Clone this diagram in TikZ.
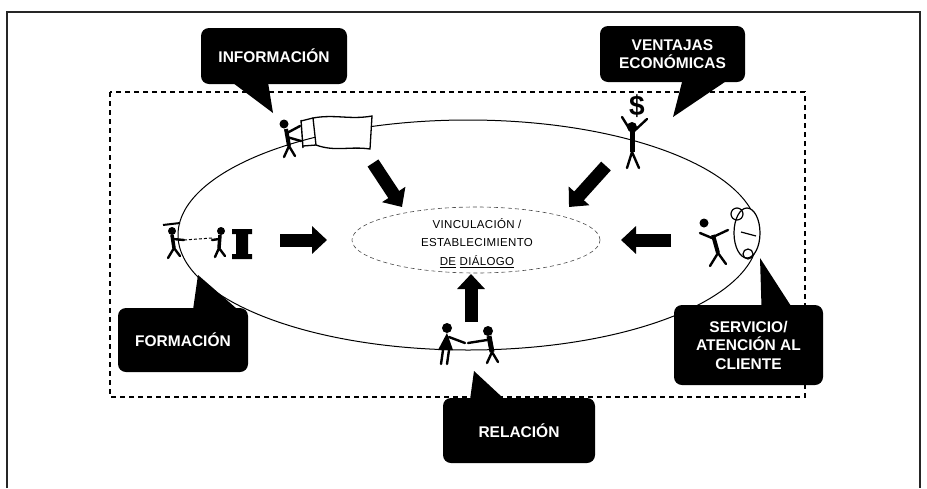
\documentclass[tikz,border=0pt]{standalone}
\usepackage{fontspec}
\setmainfont{Liberation Sans}
\newfontfamily\corefont[LetterSpace=3]{Liberation Sans}
\usetikzlibrary{arrows.meta}

\begin{document}
\begin{tikzpicture}[x=1pt,y=-1pt,
	callout/.style={fill=black,text=white,rounded corners=8pt,align=center,inner sep=0pt,font=\bfseries\fontsize{15.5}{18.5}\selectfont},
	bigarrow/.style={line width=13pt,-{Triangle[width=27pt,length=15pt]}},
	limb/.style={line width=2.4pt,line cap=round,line join=round}]
	\useasboundingbox (0,0) rectangle (927,488);
	% frame, open at the bottom
	\draw[line width=1.6pt,black!85] (7,488) -- (7,12) -- (920,12) -- (920,488);
	\draw[dash pattern=on 5pt off 4pt,line width=1.2pt] (110,92) rectangle (805,397);
	% ring and centre
	\draw[line width=1pt] (468,235) ellipse [x radius=290pt,y radius=115pt];
	\draw[line width=0.6pt,dash pattern=on 4pt off 3pt,black!70] (476,240) ellipse [x radius=124pt,y radius=33pt];
	\node[align=center,font=\corefont\fontsize{11.5}{18.5}\selectfont] (core) at (477,243) {VINCULACIÓN /\\ESTABLECIMIENTO\\\underline{DE} \underline{DIÁLOGO}};

	% arrows towards the centre
	\coordinate (nw0) at (373,163); \coordinate (nw1) at (402,207);
	\coordinate (ne0) at (606,166); \coordinate (ne1) at (569,207);
	\coordinate (w0) at (280,240); \coordinate (w1) at (327,240);
	\coordinate (e0) at (671,240); \coordinate (e1) at (621,240);
	\coordinate (s0) at (471,322); \coordinate (s1) at (471,274);
	\draw[bigarrow] (nw0) -- (nw1);
	\draw[bigarrow] (ne0) -- (ne1);
	\draw[bigarrow] (w0) -- (w1);
	\draw[bigarrow] (e0) -- (e1);
	\draw[bigarrow] (s0) -- (s1);

	% information: man with a flag
	\fill (284,124) circle (4.5pt);
	\draw[line width=4pt] (286,129) -- (289,146);
	\draw[limb] (289,146) -- (284,157) (289,146) -- (295,156);
	\draw[limb] (287,133) -- (300,126) (287,137) -- (301,141);
	\draw[line width=1.4pt] (301,120) -- (303,148);
	\draw[line width=1.3pt,fill=white] (313,118) .. controls (335,114) and (350,120) .. (372,116) -- (370,149) .. controls (350,146) and (335,152) .. (316,145) -- cycle;
	\draw[line width=1.3pt] (301,121) -- (313,118) (303,146) -- (316,145);

	% economic advantages: man lifting a dollar
	\node[font=\bfseries\fontsize{28}{28}\selectfont] (cash) at (637,106) {\$};
	\fill (632,127) circle (5pt);
	\draw[limb] (632,133) -- (622,117) (632,133) -- (647,119);
	\draw[line width=5pt] (632,131) -- (632,152);
	\draw[limb] (632,152) -- (627,168) (632,152) -- (639,168);

	% customer service
	\fill (704,223) circle (4.5pt);
	\draw[limb] (700,233) -- (712,238) (713,237) -- (728,230);
	\draw[line width=4pt] (713,235) -- (718,253);
	\draw[limb] (718,253) -- (710,266) (718,253) -- (726,264);
	\draw[line width=1.2pt,fill=white] (747,233) ellipse [x radius=13pt,y radius=25pt];
	\draw[line width=1.2pt] (737,214) circle (6pt) (748,254) circle (5pt) (741,232) -- (756,236);

	% training: teacher, pupil and lectern
	\draw[line width=2pt] (163,225) -- (180,223);
	\fill (172,231) circle (4pt);
	\draw[line width=3.5pt] (172,235) -- (174,248);
	\draw[limb] (174,248) -- (168,258) (174,248) -- (180,256) (173,239) -- (184,240);
	\draw[line width=1pt,densely dashed] (184,240) -- (212,238);
	\fill (221,231) circle (4pt);
	\draw[line width=3.5pt] (220,235) -- (219,248);
	\draw[limb] (219,248) -- (215,257) (219,248) -- (225,256) (219,239) -- (212,240);
	\fill (232,229) rectangle (252,234) (236,234) rectangle (248,254) (232,254) rectangle (252,259);

	% relationship: handshake
	\fill (447,328) circle (5pt);
	\fill (447,333) -- (438,350) -- (453,350) -- cycle;
	\draw[limb] (443,350) -- (441,364) (449,350) -- (447,364) (449,337) -- (465,343);
	\fill (488,331) circle (5pt);
	\draw[line width=5pt] (489,336) -- (492,352);
	\draw[limb] (487,340) -- (468,343) (492,352) -- (487,363) (492,352) -- (498,362);

	% callouts
	\node[callout,minimum width=146pt,minimum height=56pt] (info) at (274,56) {INFORMACIÓN};
	\coordinate (infotip) at (273,113);
	\fill ([xshift=-42pt,yshift=2pt]info.south) -- (infotip) -- ([xshift=-6pt,yshift=2pt]info.south) -- cycle;

	\node[callout,minimum width=145pt,minimum height=56pt] (money) at (672.5,54) {VENTAJAS\\ECONÓMICAS};
	\coordinate (moneytip) at (673,117);
	\fill ([xshift=10pt,yshift=2pt]money.south) -- (moneytip) -- ([xshift=55pt,yshift=2pt]money.south) -- cycle;

	\node[callout,minimum width=130pt,minimum height=64pt] (train) at (183,340) {FORMACIÓN};
	\coordinate (traintip) at (198,275);
	\fill ([xshift=10pt,yshift=-2pt]train.north) -- (traintip) -- ([xshift=55pt,yshift=-2pt]train.north) -- cycle;

	\node[callout,minimum width=152pt,minimum height=65pt] (link) at (519,430.5) {RELACIÓN};
	\coordinate (linktip) at (474,371);
	\fill ([xshift=-49pt,yshift=-2pt]link.north) -- (linktip) -- ([xshift=-14pt,yshift=-2pt]link.north) -- cycle;

	\node[callout,minimum width=149pt,minimum height=80pt] (care) at (748.5,345) {SERVICIO/\\ATENCIÓN AL\\CLIENTE};
	\coordinate (caretip) at (760,258);
	\fill ([xshift=13pt,yshift=-2pt]care.north) -- (caretip) -- ([xshift=43pt,yshift=-2pt]care.north) -- cycle;
\end{tikzpicture}
\end{document}
